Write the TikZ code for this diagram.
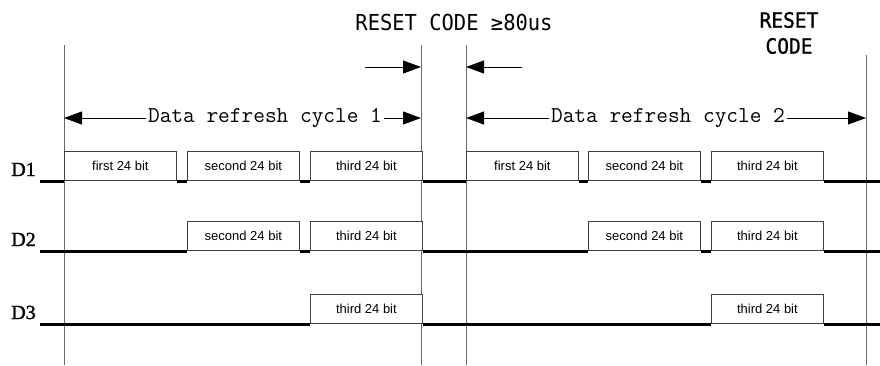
\documentclass[tikz,border=0pt]{standalone}
\usepackage{fontspec}
\setmainfont{Liberation Serif}
\setsansfont{Liberation Sans}
\newfontfamily\codefont[FakeStretch=0.93]{DejaVu Sans Mono}
\usetikzlibrary{arrows.meta,positioning}
\tikzset{
  bitbox/.style={draw=black!75,line width=0.8pt,fill=white,inner sep=0pt,
    minimum width=112pt,minimum height=29pt,anchor=south west,
    font=\sffamily\fontsize{13}{14}\selectfont},
  sigline/.style={line width=3pt},
  guide/.style={draw=black!60,line width=1pt},
  bigarrow/.style={line width=0.8pt,-{Triangle[length=18pt,width=13pt]}},
  cyclelabel/.style={inner sep=1.5pt,
    font=\ttfamily\addfontfeature{FakeBold=2.5}\fontsize{22.7}{24}\selectfont},
  dlabel/.style={anchor=base,font=\addfontfeature{FakeBold=1.5}\fontsize{20}{22}\selectfont},
}
\begin{document}
\begin{tikzpicture}[x=1pt,y=-1pt]
    \useasboundingbox (0,0) rectangle (880,365);
    % vertical guide lines
    \draw[guide] (64,45) -- (64,365);
    \draw[guide] (421,45) -- (421,365);
    \draw[guide] (466,45) -- (466,365);
    \draw[guide] (866,55) -- (866,365);
    % reset code labels and arrows
    \node[font=\codefont\fontsize{22}{24}\selectfont] (reset) at (454,22) {RESET CODE ≥80us};
    \node[align=center,font=\codefont\addfontfeature{FakeBold=1}\fontsize{21}{26}\selectfont] (resetR) at (789,33) {RESET\\CODE};
    \coordinate (rA) at (365,67);
    \coordinate (rB) at (421,67);
    \coordinate (rC) at (522,67);
    \coordinate (rD) at (466,67);
    \draw[bigarrow] (rA) -- (rB);
    \draw[bigarrow] (rC) -- (rD);
    % refresh cycles
    \node[cyclelabel] (cyc1) at (265,118) {Data refresh cycle 1};
    \node[cyclelabel] (cyc2) at (668,118) {Data refresh cycle 2};
    \coordinate (c1L) at (64,118);
    \coordinate (c1R) at (421,118);
    \coordinate (c2L) at (466,118);
    \coordinate (c2R) at (866,118);
    \draw[bigarrow] (cyc1.west) -- (c1L);
    \draw[bigarrow] (cyc1.east) -- (c1R);
    \draw[bigarrow] (cyc2.west) -- (c2L);
    \draw[bigarrow] (cyc2.east) -- (c2R);
    % data lines D1..D3, row r only carries the boxes k >= r
    \foreach \r/\y in {1/181,2/251,3/324}{
      \node[dlabel] (D\r) at (23.5,\y-5) {D\r};
      \coordinate (s\r) at (40,\y);
      \coordinate (e\r) at (880,\y);
      \foreach \c/\xa/\xb/\xc in {1/64/187/310,2/466/588/711}{
        \foreach \k/\name in {1/first,2/second,3/third}{
          \ifnum\k<\r\else
            \pgfmathsetmacro{\bx}{{\xa,\xb,\xc}[\k-1]}
            \node[bitbox] (b\r\c\k) at (\bx,\y) {\name\ 24 bit};
          \fi
        }
      }
    }
    % low level between the boxes
    \draw[sigline] (s1) -- (b111.south west) (b111.south east) -- (b112.south west)
      (b112.south east) -- (b113.south west) (b113.south east) -- (b121.south west)
      (b121.south east) -- (b122.south west) (b122.south east) -- (b123.south west)
      (b123.south east) -- (e1);
    \draw[sigline] (s2) -- (b212.south west) (b212.south east) -- (b213.south west)
      (b213.south east) -- (b222.south west) (b222.south east) -- (b223.south west)
      (b223.south east) -- (e2);
    \draw[sigline] (s3) -- (b313.south west) (b313.south east) -- (b323.south west)
      (b323.south east) -- (e3);
\end{tikzpicture}
\end{document}
